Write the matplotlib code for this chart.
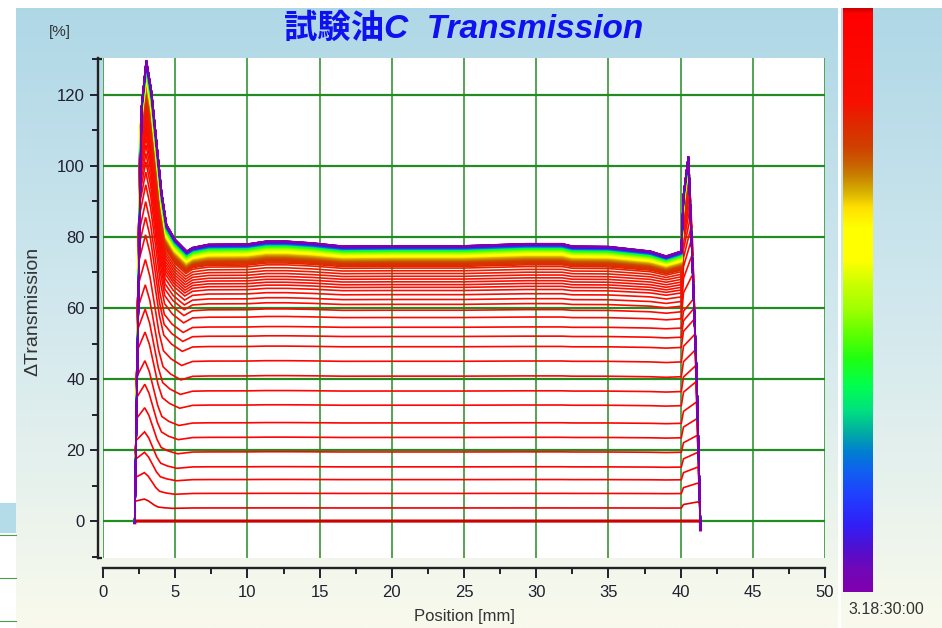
import numpy as np
import matplotlib
matplotlib.use("Agg")
import matplotlib.pyplot as plt
from matplotlib.colors import LinearSegmentedColormap
from matplotlib.patches import Rectangle
from matplotlib import font_manager

# ---------------- data ----------------
title_text = "試験油C  Transmission"
x_label = "Position [mm]"
y_label = "ΔTransmission"
y_unit = "[%]"
time_label = "3.18:30:00"

x_ticks = [0, 5, 10, 15, 20, 25, 30, 35, 40, 45, 50]
y_ticks = [0, 20, 40, 60, 80, 100, 120]

# plateau level of each profile, first (red) to last (purple)
levels = [
    0.0, 3.7, 7.8, 11.7, 15.3, 19.5, 23.6, 27.7, 32.7, 36.7, 40.9, 45.1, 49.2, 52.1, 54.7, 57.5, 59.6,
    61.3, 62.7, 64.1, 65.3, 66.2, 67.0, 67.8, 68.6, 69.4, 70.2, 71.0, 71.8,
    72.3, 72.6, 72.9, 73.1, 73.3, 73.5, 73.6, 73.7, 73.8, 73.9, 74.0, 74.1,
    74.2, 74.3, 74.4, 74.5, 74.6, 74.7, 74.8, 74.9, 75.0, 75.05, 75.1, 75.15, 75.2, 75.25, 75.3, 75.35,
    75.4, 75.45, 75.5, 75.55, 75.6, 75.65, 75.7, 75.75,
    75.8, 75.85, 75.9, 75.95, 76.0, 76.05, 76.1, 76.15, 76.2, 76.25, 76.3, 76.35, 76.4, 76.45, 76.5,
    76.55, 76.6, 76.65, 76.7, 76.75, 76.8, 76.85, 76.9, 76.95, 77.0,
    77.03, 77.06, 77.09, 77.12, 77.15, 77.18, 77.21, 77.24, 77.27, 77.3, 77.32, 77.34, 77.36, 77.38, 77.4,
    77.42, 77.44, 77.46, 77.48, 77.5, 77.52, 77.54, 77.56, 77.58, 77.6, 77.62, 77.64, 77.66, 77.68, 77.7,
    77.72, 77.74, 77.76, 77.78, 77.8, 77.82, 77.84, 77.86, 77.88, 77.9, 77.92, 77.94, 77.96, 77.98, 78.0,
    78.02, 78.04, 78.06, 78.08, 78.1, 78.12, 78.14, 78.16, 78.18, 78.2, 78.22, 78.24, 78.26, 78.28, 78.3,
]

# left peak height above plateau, by plateau level
left_lvl = [0, 4, 8, 12, 40, 78]
left_excess = [0, 2.7, 6.0, 7.8, 25, 51.5]
# x of the left peak, by plateau level
xpeak_lvl = [0, 78]
xpeak_pos = [2.85, 3.0]
# length of the left decay, by plateau level
decay_lvl = [0, 10, 78]
decay_len = [1.8, 2.2, 2.8]
# shape of the left decay (read from the last profile)
decay_u = [0.0, 0.126, 0.249, 0.375, 0.498, 0.708, 1.0]
decay_f = [1.0, 0.83, 0.56, 0.28, 0.10, 0.02, -0.045]
# left rising edge of the sample (value -> position)
edge_v = [0, 65, 108, 126]
edge_x = [2.2, 2.42, 2.56, 2.8]
# plateau undulation of the last profile
plateau_x = [6.2, 7.3, 10.0, 11.3, 12.7, 14.5, 16.6, 20.0, 25.0, 29.3, 31.8, 32.5, 35.0, 37.9, 39.0, 40.05]
plateau_off = [-1.3, -0.4, -0.3, 0.5, 0.5, 0.0, -0.9, -0.8, -0.8, -0.2, -0.2, -0.9, -1.0, -2.3, -3.7, -2.3]
off_lvl = [0, 55, 70, 78]
off_scale = [0.0, 0.15, 0.6, 1.0]
# right peak height, by plateau level
right_lvl = [0, 4, 8, 36, 55, 62, 68, 78]
right_peak = [0, 5.9, 11, 43, 63, 82, 95, 102.6]
# right falling edge of the sample (value -> position)
desc_v = [-2, 4, 41.6, 79.2, 102.6]
desc_x = [41.39, 41.34, 41.11, 40.88, 40.6]
start_x, start_v = 2.2, -0.5
end_x, end_v = 41.38, -2.5

# ---------------- figure ----------------
W, H = 942, 628
installed = {f.name for f in font_manager.fontManager.ttflist}
narrow = 'Liberation Sans Narrow' if 'Liberation Sans Narrow' in installed else 'Liberation Sans'
label_fs = 13 if narrow == 'Liberation Sans Narrow' else 12

plt.rcParams['font.family'] = ['Liberation Sans', 'DejaVu Sans']
fig = plt.figure(figsize=(W / 100, H / 100), dpi=100)

bg = fig.add_axes([0, 0, 1, 1], zorder=0)
bg.set_axis_off()
bg_cmap = LinearSegmentedColormap.from_list('bg', ['#aed7e6', '#d2e8ee', '#f9faec'])
bg.imshow(np.linspace(0, 1, 256)[:, None], aspect='auto', cmap=bg_cmap, extent=[0, W, H, 0])
bg.set_xlim(0, W)
bg.set_ylim(H, 0)
bg.add_patch(Rectangle((0, 0), W, 8, color='white', lw=0))
bg.add_patch(Rectangle((0, 0), 16, H, color='white', lw=0))
bg.add_patch(Rectangle((838, 0), 3, H, color='white', lw=0))
bg.add_patch(Rectangle((0, 503), 16, 30, color='#b4dbe8', lw=0))
for yy in [535, 578, 621]:
    bg.plot([0, 16], [yy, yy], color='#4a9e4a', lw=0.8)
# y-axis bracket caps
bg.plot([97, 102], [58.5, 58.5], color='#222222', lw=1.6, solid_capstyle='butt')
bg.plot([97, 102], [557.5, 557.5], color='#222222', lw=1.6, solid_capstyle='butt')

ax = fig.add_axes([103 / W, 1 - 558 / H, 722 / W, 500 / H], zorder=1)
ax.set_facecolor('white')
ax.set_xlim(0, 50)
ax.set_ylim(-10.4, 130.4)
for s in ['top', 'right']:
    ax.spines[s].set_visible(False)
ax.spines['left'].set_position(('outward', 3.6))
ax.spines['bottom'].set_position(('outward', 7.2))
for s in ['left', 'bottom']:
    ax.spines[s].set_color('#222222')
    ax.spines[s].set_linewidth(1.7)

ax.set_xticks(x_ticks)
ax.set_xticks(np.arange(2.5, 50, 5), minor=True)
ax.set_yticks(y_ticks)
ax.set_yticks(np.arange(-10, 131, 20), minor=True)
ax.tick_params(axis='x', which='major', direction='out', length=7.2, width=1.4, pad=5,
               labelsize=label_fs, colors='#202030')
ax.tick_params(axis='x', which='minor', direction='out', length=4.3, width=1.4)
ax.tick_params(axis='y', which='major', direction='out', length=5.5, width=1.4, pad=4,
               labelsize=label_fs, colors='#202030')
ax.tick_params(axis='y', which='minor', direction='out', length=4.5, width=1.4)
ax.tick_params(which='minor', colors='#202030')
for lab in ax.get_xticklabels() + ax.get_yticklabels():
    lab.set_family([narrow, 'DejaVu Sans'])

ax.set_axisbelow(True)
ax.grid(axis='x', which='major', color='#228b22', lw=1.1)
ax.grid(axis='y', which='major', color='#228b22', lw=1.6)

stops = [(0, '#d00000'), (0.007, '#ff0000'), (0.16, '#f81000'), (0.195, '#e02800'),
         (0.237, '#d04000'), (0.265, '#c86000'), (0.286, '#c88000'), (0.314, '#d8b000'),
         (0.341, '#ffe000'), (0.376, '#ffff00'), (0.432, '#ffff00'), (0.474, '#c8ff00'),
         (0.516, '#a0ff00'), (0.557, '#60ff00'), (0.6, '#20ff10'), (0.648, '#00ff50'),
         (0.69, '#00e080'), (0.725, '#00b0a0'), (0.76, '#0080d0'), (0.794, '#1060f0'),
         (0.836, '#2040ff'), (0.885, '#3020f8'), (0.927, '#5010d0'), (0.962, '#7008b8'),
         (1.0, '#8000b0')]
cmap = LinearSegmentedColormap.from_list('lumi', stops)

n = len(levels)
du = np.array(decay_u)
dfr = np.array(decay_f)
pxa = np.array(plateau_x)
poa = np.array(plateau_off)
for i, L in enumerate(levels):
    t = i / (n - 1)
    E = np.interp(L, left_lvl, left_excess)
    P = L + E
    xp = np.interp(L, xpeak_lvl, xpeak_pos)
    D = np.interp(L, decay_lvl, decay_len)
    sc = np.interp(L, off_lvl, off_scale)
    Pr = np.interp(L, right_lvl, right_peak)
    xs = [start_x, np.interp(0.9 * P, edge_v, edge_x), xp]
    ys = [start_v, 0.9 * P, P]
    xs += list(xp + D * du[1:])
    ys += list(L + E * dfr[1:])
    xs += list(pxa)
    ys += list(L + sc * poa)
    xs += [40.2, np.interp(Pr, desc_v, desc_x) - 0.06, np.interp(0.4 * Pr, desc_v, desc_x), end_x]
    ys += [L + 0.55 * (Pr - L), Pr, 0.4 * Pr, end_v]
    lw = 2.2 if i == 0 else 1.2
    ax.plot(xs, ys, color=cmap(t), lw=lw, zorder=2 + i * 0.001, solid_joinstyle='miter')

# colour bar
cax = fig.add_axes([843 / W, 1 - 592 / H, 30 / W, 584 / H], zorder=1)
cax.imshow(np.linspace(0, 1, 256)[:, None], aspect='auto', cmap=cmap, extent=[0, 1, 1, 0])
cax.set_axis_off()

fig.text(886 / W, 1 - 609 / H, time_label, ha='center', va='center', fontsize=11.5,
         color='#333333', family=[narrow, 'DejaVu Sans'])
fig.text(464 / W, 1 - 29 / H, title_text, ha='center', va='center', fontsize=24,
         color='#1010f0', weight='bold', style='italic',
         family=['Liberation Sans', 'Noto Sans CJK JP', 'DejaVu Sans'])
fig.text(60 / W, 1 - 32 / H, y_unit, ha='center', va='center', fontsize=label_fs - 1,
         color='#333333', family=[narrow, 'DejaVu Sans'])
fig.text(33 / W, 1 - 311 / H, y_label, ha='center', va='center', rotation=90,
         fontsize=label_fs + 2, color='#333333', family=[narrow, 'DejaVu Sans'])
fig.text(464 / W, 1 - 616 / H, x_label, ha='center', va='center', fontsize=label_fs,
         color='#333333', family=[narrow, 'DejaVu Sans'])

fig.savefig('out.png', dpi=100)
